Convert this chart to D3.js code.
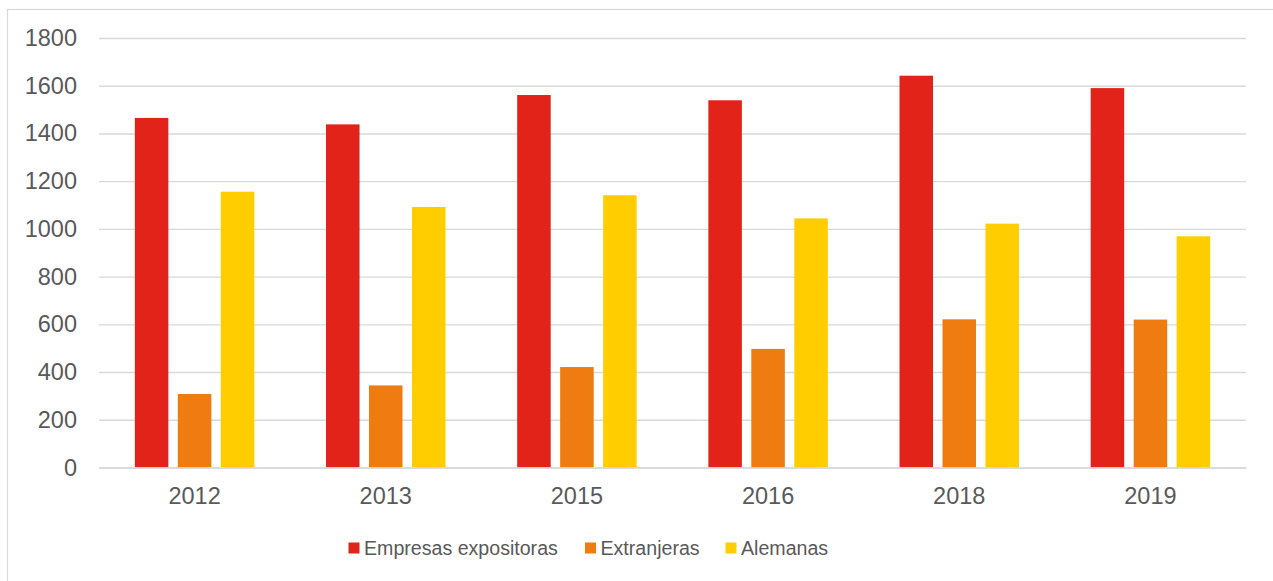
<!DOCTYPE html>
<html>
<head>
<meta charset="utf-8">
<script src="https://cdn.jsdelivr.net/npm/d3@7"></script>
<style>
  body { margin: 0; background: #fff; }
  svg text { font-family: "Liberation Sans", Arial, sans-serif; fill: #595959; }
</style>
</head>
<body>
<div id="Chart"></div>
<script>
// Values
const years = ["2012", "2013", "2015", "2016", "2018", "2019"];
const seriesNames = ["Empresas expositoras", "Extranjeras", "Alemanas"];
const seriesColors = ["#e2231a", "#ee7c11", "#ffcd00"];
const empresas = [1465, 1438, 1561, 1539, 1642, 1590];
const extranjeras = [308, 344, 421, 497, 621, 620];
const alemanas = [1156, 1092, 1141, 1044, 1022, 969];
const yTicks = [0, 200, 400, 600, 800, 1000, 1200, 1400, 1600, 1800];

const Series = [empresas, extranjeras, alemanas];
const Width = 1273, Height = 581;
const Margin = {top: 38, right: 27, bottom: 113.5, left: 99};
const WidthInner = Width - Margin.left - Margin.right;
const HeightInner = Height - Margin.top - Margin.bottom;

let Canvas = d3.select("#Chart").append("svg")
    .attr("width", Width).attr("height", Height);

// chart area frame
Canvas.append("rect").attr("x", 7.5).attr("y", 9.5)
    .attr("width", Width).attr("height", Height)
    .attr("fill", "none").attr("stroke", "#d9d9d9").attr("stroke-width", 1.2);

let Plot = Canvas.append("g")
    .attr("transform", `translate(${Margin.left}, ${Margin.top})`);

let ScaleY = d3.scaleLinear().domain([0, 1800]).range([HeightInner, 0]);
let ScaleX = d3.scaleBand().domain(years).range([0, WidthInner])
    .paddingInner(0.375).paddingOuter(0.1875);
let ScaleSeries = d3.scaleBand().domain(d3.range(Series.length))
    .range([0, ScaleX.bandwidth()]).paddingInner(0.22);

// gridlines + y labels
let AxisY = d3.axisLeft(ScaleY).tickValues(yTicks)
    .tickSize(-WidthInner).tickPadding(22).tickFormat(d3.format("d"));
let GY = Plot.append("g").call(AxisY);
GY.select(".domain").remove();
GY.selectAll(".tick line").attr("stroke", "#d9d9d9").attr("stroke-width", 1.4);
GY.selectAll(".tick text").style("font-size", "23.5px").attr("fill", "#595959");

// bars
years.forEach((yr, i) => {
    Series.forEach((vals, s) => {
        Plot.append("rect")
            .attr("x", ScaleX(yr) + ScaleSeries(s))
            .attr("y", ScaleY(vals[i]))
            .attr("width", ScaleSeries.bandwidth())
            .attr("height", HeightInner - ScaleY(vals[i]))
            .attr("fill", seriesColors[s]);
    });
});

// x axis
let AxisX = d3.axisBottom(ScaleX).tickSize(0).tickPadding(20);
let GX = Plot.append("g").attr("transform", `translate(0, ${HeightInner})`).call(AxisX);
GX.select(".domain").attr("stroke", "#d9d9d9").attr("stroke-width", 1.4);
GX.selectAll(".tick text").style("font-size", "23.5px").attr("fill", "#595959");

// legend
const LegendX = [348.5, 585, 725.5];
let Legend = Canvas.append("g");
seriesNames.forEach((name, s) => {
    Legend.append("rect").attr("x", LegendX[s]).attr("y", 542.5)
        .attr("width", 11).attr("height", 11).attr("fill", seriesColors[s]);
    Legend.append("text").attr("x", LegendX[s] + 15.5).attr("y", 548)
        .attr("dy", "0.35em").style("font-size", "19.6px").text(name);
});
</script>
</body>
</html>
